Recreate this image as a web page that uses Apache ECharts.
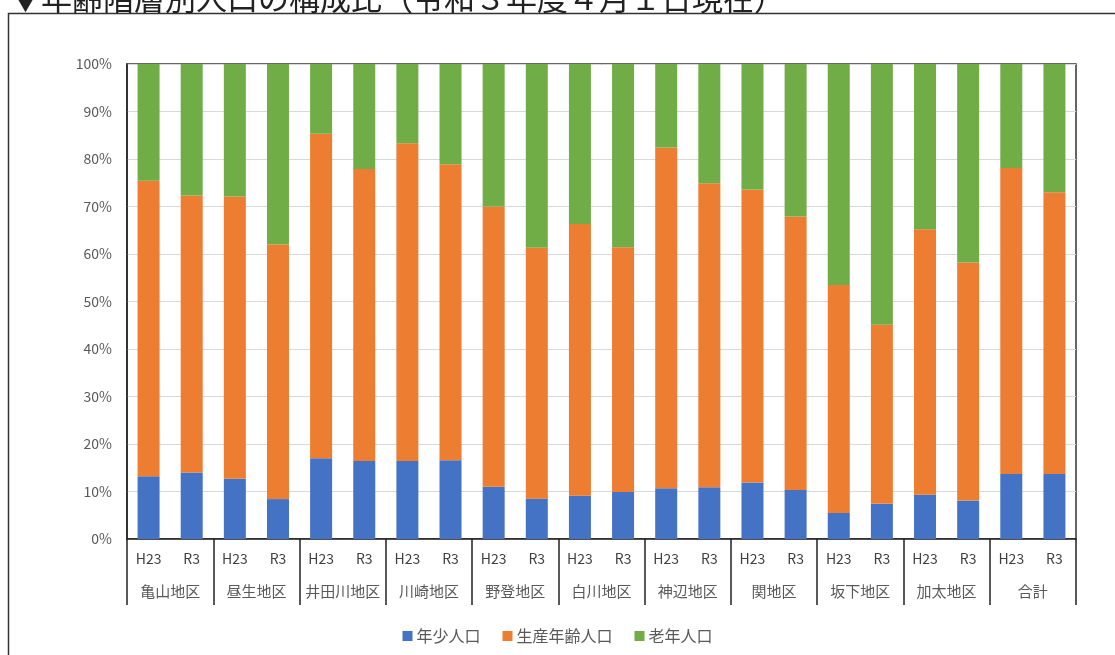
<!DOCTYPE html>
<html><head><meta charset="utf-8">
<script src="https://cdn.jsdelivr.net/npm/echarts@6/dist/echarts.min.js"></script>
<style>html,body{margin:0;padding:0;background:#fff}#c{width:1115px;height:655px}</style>
</head><body><div id="c"></div>
<script>
const titleText = '▼年齢階層別人口の構成比（令和３年度４月１日現在）';
const districts = ['亀山地区','昼生地区','井田川地区','川崎地区','野登地区','白川地区','神辺地区','関地区','坂下地区','加太地区','合計'];
const years = ['H23','R3'];
const seriesNames = ['年少人口','生産年齢人口','老年人口'];
const young   = [13.2,14.0, 12.7,8.4, 17.0,16.4, 16.4,16.6, 11.0,8.5, 9.1,9.9, 10.7,10.9, 11.9,10.3, 5.5,7.4, 9.3,8.1, 13.7,13.7];
const working = [62.2,58.3, 59.4,53.6, 68.3,61.5, 66.9,62.3, 59.0,52.8, 57.2,51.5, 71.7,64.0, 61.7,57.6, 48.0,37.7, 55.9,50.1, 64.4,59.3];
const elderly = [24.6,27.7, 27.9,38.0, 14.7,22.1, 16.7,21.1, 30.0,38.7, 33.7,38.6, 17.6,25.1, 26.4,32.1, 46.5,54.9, 34.8,41.8, 21.9,27.0];
const yTicks = [0,10,20,30,40,50,60,70,80,90,100];
const colors = ['#4472C4','#ED7D31','#70AD47'];

const cats = [];
districts.forEach(d => years.forEach(y => cats.push(y)));
const F = '"Noto Sans CJK JP","Noto Sans",sans-serif';

const chart = echarts.init(document.getElementById('c'), null, {renderer:'canvas'});
chart.setOption({
  animation:false,
  color: colors,
  textStyle:{fontFamily:F},
  graphic:[
    {type:'rect', shape:{x:8.5,y:13.5,width:1200,height:800}, style:{fill:'none',stroke:'#333',lineWidth:1.5}, z:100},
    {type:'text', x:10, y:-2, style:{text:titleText, font:'31px '+F, fill:'#222', verticalAlign:'middle', align:'left'}, z:100}
  ],
  grid:{left:127,right:39,top:64,bottom:116,show:true,borderColor:'#333',borderWidth:1.5,backgroundColor:'transparent'},
  legend:{bottom:6,left:'center',icon:'rect',itemWidth:10,itemHeight:10,itemGap:22,
    textStyle:{fontSize:16,color:'#595959',fontFamily:F,padding:[0,0,0,-1]},data:seriesNames},
  xAxis:[
    {type:'category',data:cats,position:'bottom',
      axisLine:{show:true,lineStyle:{color:'#222',width:1.5}},
      axisTick:{show:false},
      axisLabel:{margin:13,fontSize:14,color:'#404040',fontFamily:F,interval:0}},
    {type:'category',data:districts,position:'bottom',
      axisLine:{show:false},
      axisTick:{show:true,length:66,lineStyle:{color:'#222',width:1.5}},
      axisLabel:{margin:45,fontSize:15,color:'#595959',fontFamily:F,interval:0},
      splitLine:{show:false}}
  ],
  yAxis:{type:'value',min:yTicks[0],max:yTicks[yTicks.length-1],interval:10,
    axisLine:{show:true,lineStyle:{color:'#222',width:1.5}},
    axisTick:{show:false},
    axisLabel:{formatter:'{value}%',fontSize:14,color:'#595959',margin:15,fontFamily:F},
    splitLine:{lineStyle:{color:'#d9d9d9',width:1}}},
  series:[
    {name:seriesNames[0],type:'bar',stack:'t',data:young,barWidth:22},
    {name:seriesNames[1],type:'bar',stack:'t',data:working,barWidth:22},
    {name:seriesNames[2],type:'bar',stack:'t',data:elderly,barWidth:22}
  ]
});
</script></body></html>
